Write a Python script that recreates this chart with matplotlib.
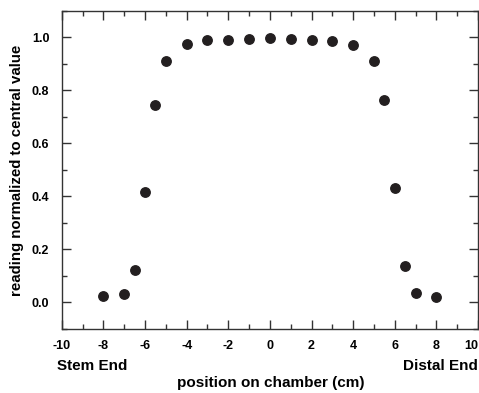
import matplotlib
matplotlib.use("Agg")
import matplotlib.pyplot as plt
from matplotlib.ticker import MultipleLocator

plt.rcParams['font.family'] = ['Liberation Sans', 'DejaVu Sans']
plt.rcParams['font.weight'] = 'bold'
plt.rcParams['axes.unicode_minus'] = False

# positions along chamber (cm) and normalized readings
position = [-8, -7, -6.5, -6, -5.5, -5, -4, -3, -2, -1, 0,
            1, 2, 3, 4, 5, 5.5, 6, 6.5, 7, 8]
reading = [0.023, 0.033, 0.123, 0.417, 0.747, 0.912, 0.976, 0.989, 0.992, 0.995, 0.997,
           0.995, 0.992, 0.986, 0.973, 0.912, 0.763, 0.431, 0.138, 0.036, 0.021]

xticks = [-10, -8, -6, -4, -2, 0, 2, 4, 6, 8, 10]
yticks = [0.0, 0.2, 0.4, 0.6, 0.8, 1.0]

fig = plt.figure(figsize=(4.79, 3.93), dpi=100)
ax = fig.add_axes([0.129, 0.163, 0.869, 0.809])

ax.plot(position, reading, 'o', color='#231f20', ms=6.8, mec='#231f20')

ax.set_xlim(-10, 10)
ax.set_ylim(-0.1, 1.1)
ax.set_xticks(xticks)
ax.set_xticklabels([str(v) for v in xticks])
ax.set_yticks(yticks)
ax.set_yticklabels(['%.1f' % v for v in yticks])
ax.xaxis.set_minor_locator(MultipleLocator(1))
ax.yaxis.set_minor_locator(MultipleLocator(0.1))

ax.tick_params(which='both', direction='in', top=True, right=True,
               color='#333333', labelsize=9)
ax.tick_params(axis='y', pad=9)
ax.tick_params(axis='x', pad=8)
ax.tick_params(which='major', length=6.3, width=1)
ax.tick_params(which='minor', length=3.8, width=1)
for lab in ax.get_xticklabels() + ax.get_yticklabels():
    lab.set_fontweight('bold')
# last x label sits against the figure edge
ax.get_xticklabels()[-1].set_horizontalalignment('right')
ax.get_xticklabels()[-1].set_x(10.4)
for s in ax.spines.values():
    s.set_color('#333333')
    s.set_linewidth(1)

fig.text(0.036, 0.566, 'reading normalized to central value', rotation=90,
         ha='center', va='center', fontsize=10.8, fontweight='bold')
fig.text(0.566, 0.025, 'position on chamber (cm)', ha='center', va='center',
         fontsize=11, fontweight='bold')
fig.text(0.119, 0.069, 'Stem End', ha='left', va='center', fontsize=11, fontweight='bold')
fig.text(0.998, 0.069, 'Distal End', ha='right', va='center', fontsize=11, fontweight='bold')

fig.savefig('out.png', dpi=100)
